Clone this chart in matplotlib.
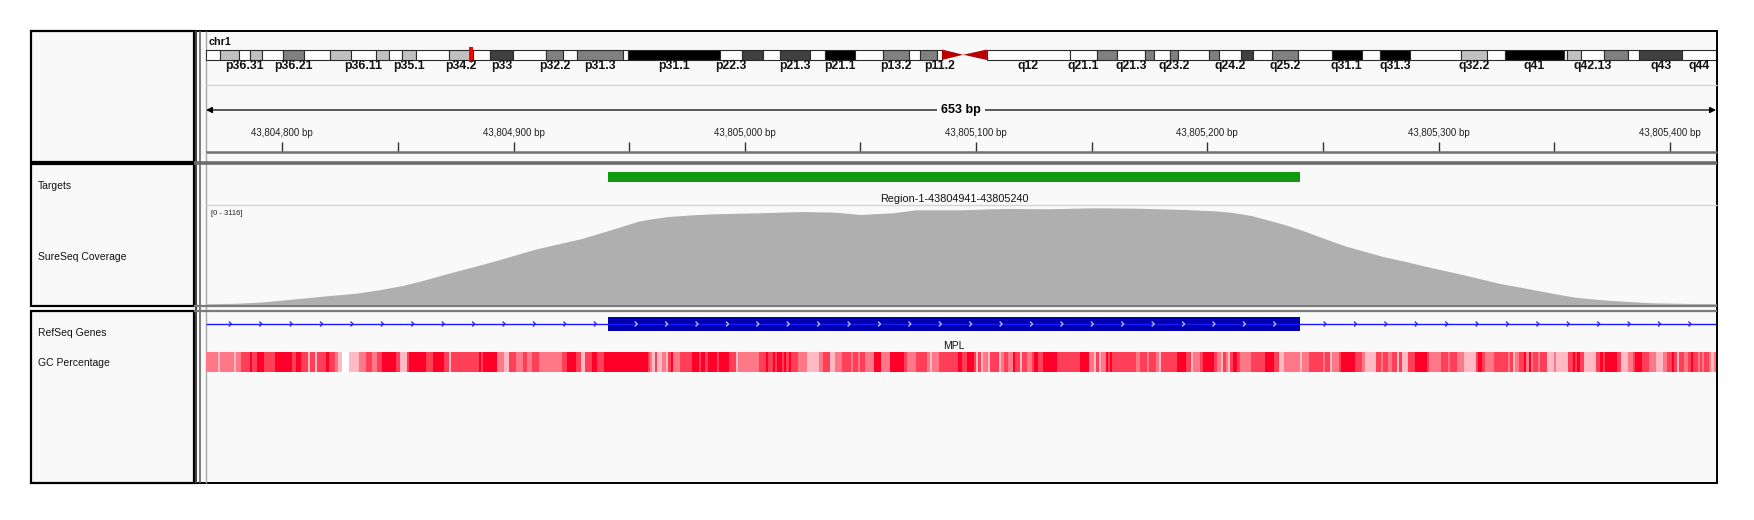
import numpy as np
import matplotlib
matplotlib.use("Agg")
import matplotlib.pyplot as plt
from matplotlib.patches import Rectangle, Polygon
from matplotlib.colors import ListedColormap

plt.rcParams['font.family'] = ['Liberation Sans', 'DejaVu Sans']

# ---- data ----
chrom = "chr1"
chrom_len = 249250621
view_start, view_end = 43804767, 43805420

# hg19 chr1 cytobands
band_names = ["p36.33", "p36.32", "p36.31", "p36.23", "p36.22", "p36.21", "p36.13", "p36.12", "p36.11",
              "p35.3", "p35.2", "p35.1", "p34.3", "p34.2", "p34.1", "p33", "p32.3", "p32.2", "p32.1",
              "p31.3", "p31.2", "p31.1", "p22.3", "p22.2", "p22.1", "p21.3", "p21.2", "p21.1", "p13.3",
              "p13.2", "p13.1", "p12", "p11.2", "p11.1", "q11", "q12", "q21.1", "q21.2", "q21.3", "q22",
              "q23.1", "q23.2", "q23.3", "q24.1", "q24.2", "q24.3", "q25.1", "q25.2", "q25.3", "q31.1",
              "q31.2", "q31.3", "q32.1", "q32.2", "q32.3", "q41", "q42.11", "q42.12", "q42.13", "q42.2",
              "q42.3", "q43", "q44"]
band_starts = [0, 2300000, 5400000, 7200000, 9200000, 12700000, 16200000, 20400000, 23900000,
               28000000, 30200000, 32400000, 34600000, 40100000, 44100000, 46800000, 50700000, 56100000,
               59000000, 61300000, 68900000, 69700000, 84900000, 88400000, 92000000, 94700000, 99700000,
               102200000, 107200000, 111800000, 116100000, 117800000, 120600000, 121500000, 125000000,
               128900000, 142600000, 147000000, 150300000, 155000000, 156500000, 159100000, 160500000,
               165500000, 167200000, 170900000, 172900000, 176000000, 180300000, 185800000, 190800000,
               193800000, 198700000, 207200000, 211500000, 214500000, 224100000, 224600000, 227000000,
               230700000, 234700000, 236600000, 243700000]
band_stains = ["gneg", "gpos25", "gneg", "gpos25", "gneg", "gpos50", "gneg", "gpos25", "gneg",
               "gpos25", "gneg", "gpos25", "gneg", "gpos25", "gneg", "gpos75", "gneg", "gpos50", "gneg",
               "gpos50", "gneg", "gpos100", "gneg", "gpos75", "gneg", "gpos75", "gneg", "gpos100", "gneg",
               "gpos50", "gneg", "gpos50", "gneg", "acen", "acen", "gvar", "gneg", "gpos50", "gneg", "gpos50",
               "gneg", "gpos50", "gneg", "gpos50", "gneg", "gpos75", "gneg", "gpos50", "gneg", "gpos100",
               "gneg", "gpos100", "gneg", "gpos25", "gneg", "gpos100", "gneg", "gpos25", "gneg", "gpos50",
               "gneg", "gpos75", "gneg"]
shown_labels = ["p36.31", "p36.21", "p36.11", "p35.1", "p34.2", "p33", "p32.2", "p31.3", "p31.1",
                "p22.3", "p21.3", "p21.1", "p13.2", "p11.2", "q12", "q21.1", "q21.3", "q23.2", "q24.2",
                "q25.2", "q31.1", "q31.3", "q32.2", "q41", "q42.13", "q43", "q44"]

target_name = "Region-1-43804941-43805240"
target_start, target_end = 43804941, 43805240
gene_name = "MPL"
gene_start, gene_end = 43804941, 43805240

cov_max = 3116
cov_pos = [43804767, 43804780, 43804790, 43804800, 43804813, 43804822, 43804832, 43804842, 43804852,
           43804862, 43804871, 43804880, 43804890, 43804900, 43804910, 43804920, 43804929,
           43804941, 43804948, 43804954, 43804960, 43804967, 43804977, 43804987, 43805006, 43805025,
           43805039, 43805050, 43805064, 43805074, 43805093, 43805112, 43805132, 43805151, 43805170,
           43805190, 43805203, 43805210, 43805219, 43805227, 43805234, 43805240, 43805251, 43805260,
           43805268, 43805276, 43805285, 43805293, 43805301, 43805309, 43805318, 43805326, 43805335,
           43805343, 43805351, 43805359, 43805367, 43805375, 43805392, 43805409, 43805420]
cov_val = [22, 40, 73, 140, 232, 295, 359, 470, 604, 790, 976, 1150, 1345, 1560, 1771, 1940, 2089,
           2353, 2512, 2649, 2730, 2798, 2850, 2884, 2916, 2957,
           2935, 2862, 2916, 3011, 3011, 3052, 3043, 3075, 3062,
           3021, 2979, 2935, 2830, 2671, 2530, 2385, 2089, 1854,
           1690, 1526, 1380, 1240, 1105, 976, 820, 677, 555,
           445, 335, 232, 175, 127, 54, 32, 32]

# GC percentage segments: start offset (bp from view_start) and shade level (4 = darkest)
gc_start = [0, 5, 6, 12, 13, 15, 19, 20, 22, 25, 30, 37, 39, 41, 44, 45, 47, 48, 52, 53, 56, 57, 59, 62,
            66, 69, 72, 74, 76, 82, 84, 87, 88, 95, 98, 103, 105, 106, 118, 119, 120, 126, 129, 131, 134,
            137, 139, 141, 144, 154, 156, 160, 162, 164, 167, 169, 172, 191, 192, 193, 194, 195, 197, 199,
            200, 201, 202, 205, 210, 213, 214, 216, 217, 221, 222, 226, 229, 230, 239, 242, 243, 245, 246,
            247, 249, 250, 251, 252, 253, 256, 260, 265, 267, 270, 272, 275, 279, 280, 282, 283, 285, 289,
            292, 296, 302, 303, 307, 312, 313, 314, 317, 325, 327, 329, 332, 333, 334, 335, 336, 338, 339,
            343, 344, 345, 347, 349, 350, 352, 353, 355, 357, 358, 360, 362, 368, 378, 382, 384, 385, 386,
            387, 389, 390, 391, 392, 402, 404, 407, 408, 411, 412, 413, 420, 424, 426, 427, 430, 431, 436,
            437, 439, 440, 441, 442, 443, 444, 446, 447, 452, 458, 462, 464, 466, 473, 474, 477, 483, 484,
            486, 487, 490, 491, 497, 500, 501, 506, 508, 509, 511, 513, 515, 516, 517, 520, 523, 528, 529,
            534, 537, 538, 541, 544, 549, 550, 552, 553, 557, 563, 564, 565, 566, 568, 570, 571, 572, 573,
            574, 576, 577, 580, 583, 584, 589, 591, 592, 593, 594, 596, 601, 603, 604, 605, 610, 612, 615,
            617, 618, 621, 624, 627, 630, 632, 634, 635, 636, 637, 639, 641, 642, 643, 645, 646, 647, 648,
            650, 651, 652]
gc_level = [2, 1, 2, 1, 2, 3, 4, 3, 4, 3, 4, 3, 4, 3, 1, 3, 1, 3, 4, 3, 2, 1, 0, 1,
            2, 3, 2, 3, 4, 3, 1, 3, 4, 3, 4, 3, 1, 3, 4, 3, 4, 2, 1, 3, 2,
            3, 2, 3, 2, 3, 4, 3, 1, 3, 4, 3, 4, 3, 2, 1, 3, 1, 2, 1,
            3, 4, 2, 3, 4, 3, 4, 3, 4, 3, 4, 3, 1, 2, 3, 4, 3, 4, 3,
            4, 3, 4, 3, 4, 3, 2, 1, 2, 3, 1, 2, 3, 2, 3, 2, 3, 2, 4,
            2, 4, 3, 2, 3, 2, 1, 2, 3, 4, 3, 4, 3, 1, 3, 1, 2, 1, 3,
            1, 2, 3, 2, 4, 3, 1, 3, 2, 3, 4, 3, 4, 3, 4, 2, 1, 3, 1,
            2, 4, 3, 4, 3, 2, 3, 2, 3, 2, 1, 3, 4, 3, 1, 2, 3, 4, 3,
            2, 1, 3, 2, 1, 3, 4, 3, 2, 3, 4, 3, 1, 2, 1, 2, 3, 2, 3,
            1, 2, 3, 4, 3, 2, 1, 3, 2, 3, 2, 3, 1, 3, 1, 3, 4, 3, 2,
            3, 2, 3, 2, 1, 3, 4, 3, 2, 3, 2, 3, 1, 2, 3, 4, 2, 4, 2,
            3, 2, 3, 1, 2, 1, 3, 4, 3, 4, 3, 1, 3, 4, 3, 4, 3, 1, 2,
            3, 4, 3, 2, 1, 2, 3, 4, 3, 1, 3, 2, 3, 4, 3, 2, 3, 2, 3,
            2, 1, 2]

# ---- styles ----
stain_colors = {"gneg": "#ffffff", "gvar": "#ffffff", "gpos25": "#c0c0c0", "gpos50": "#808080",
                "gpos75": "#404040", "gpos100": "#000000", "acen": "#b80000"}
gc_colors = ["#ffffff", "#ffbac4", "#ff7888", "#ff3e58", "#ff0028"]
panel_bg = "#f9f9f9"

W, H = 1754, 520
fig = plt.figure(figsize=(W / 100, H / 100), dpi=100)
fig.patch.set_facecolor("white")


def px_axes(x0, y0, x1, y1):
    ax = fig.add_axes([x0 / W, 1 - y1 / H, (x1 - x0) / W, (y1 - y0) / H])
    ax.set_axis_off()
    return ax


# background frame, in pixel units
bg = px_axes(0, 0, W, H)
bg.set_xlim(0, W)
bg.set_ylim(H, 0)
bg.add_patch(Rectangle((196, 31), 1521, 452, facecolor=panel_bg, edgecolor="black", lw=1.4))
for y0, y1 in [(31, 162), (164, 306), (311, 483)]:
    bg.add_patch(Rectangle((31, y0), 163, y1 - y0, facecolor=panel_bg, edgecolor="black", lw=1.6))
bg.vlines([196, 200], 31, 483, color="#5a5a5a", lw=1.1)
bg.vlines(206, 31, 483, color="#a8a8a8", lw=1.0)
bg.hlines(85, 206, 1717, color="#d4d4d4", lw=1.0)
bg.hlines(152, 206, 1717, color="#707070", lw=1.8)
bg.hlines(162.8, 194, 1717, color="#6c6c6c", lw=2.6)
bg.hlines(205, 206, 1717, color="#d4d4d4", lw=1.0)
bg.hlines([306, 310.5], 194, 1717, color="#7a7a7a", lw=1.6)
name_font = dict(fontsize=7.5, color="#111111", va="center", ha="left")
bg.text(38, 186, "Targets", **name_font)
bg.text(38, 257, "SureSeq Coverage", **name_font)
bg.text(38, 333, "RefSeq Genes", **name_font)
bg.text(38, 363, "GC Percentage", **name_font)

# ideogram
ideo = px_axes(206, 40, 1716, 72)
ideo.set_xlim(0, chrom_len)
ideo.set_ylim(72, 40)
band_ends = band_starts[1:] + [chrom_len]
for name, s, e, st in zip(band_names, band_starts, band_ends, band_stains):
    if st == "acen":
        mid = 54.75
        if name.startswith("p"):
            pts = [(s, 49.5), (s, 60), (e, mid)]
        else:
            pts = [(s, mid), (e, 49.5), (e, 60)]
        ideo.add_patch(Polygon(pts, closed=True, facecolor=stain_colors[st], edgecolor="none"))
    else:
        ideo.add_patch(Rectangle((s, 49.5), e - s, 10.5, facecolor=stain_colors[st],
                                 edgecolor="#2a2a2a", lw=0.8))
    if name in shown_labels:
        ideo.text((s + e) / 2, 66, name, ha="center", va="center", fontsize=8.8, fontweight="bold",
                  color="#111111")
view_mid = (view_start + view_end) / 2
mark_w = 4 / 1510 * chrom_len
ideo.add_patch(Rectangle((view_mid - mark_w / 2, 47), mark_w, 15, facecolor="#ff0000", edgecolor="none"))
ideo.text(0.002 * chrom_len, 42, chrom, ha="left", va="center",
          fontsize=7.8, fontweight="bold", color="#111111")

# ruler
rul = px_axes(206, 86, 1716, 152)
rul.set_xlim(view_start, view_end)
rul.set_ylim(152, 86)
rul.annotate("", xy=(view_start, 110), xytext=(view_end, 110),
             arrowprops=dict(arrowstyle="<|-|>", color="black", lw=0.9, mutation_scale=9,
                             shrinkA=0, shrinkB=0))
rul.text((view_start + view_end) / 2, 110, f"{view_end - view_start} bp", ha="center", va="center",
         fontsize=9, fontweight="bold", bbox=dict(facecolor=panel_bg, edgecolor="none", pad=3))
ticks = np.arange(43804800, view_end, 50)
rul.vlines(ticks, 142, 151, color="#333333", lw=1.0)
for t in ticks[::2]:
    rul.text(t, 133, f"{t:,} bp", ha="center", va="center", fontsize=7, color="#222222")

# targets
trk = px_axes(206, 164, 1716, 306)
trk.set_xlim(view_start, view_end)
trk.set_ylim(306, 164)
trk.broken_barh([(target_start, target_end - target_start)], (171.5, 10.5), facecolors="#109a10")
trk.text((target_start + target_end) / 2, 199, target_name, ha="center", va="center",
         fontsize=7.8, color="#111111")

# coverage
cov = px_axes(206, 206.5, 1716, 304.5)
cov.set_xlim(view_start, view_end)
cov.set_ylim(0, cov_max)
cov.fill_between(cov_pos, cov_val, 0, color="#afafaf", lw=0)
cov.text(view_start + 2, cov_max * 0.93, f"[0 - {cov_max}]", ha="left", va="center",
         fontsize=5.5, color="#222222")

# refseq genes
gen = px_axes(206, 311, 1716, 483)
gen.set_xlim(view_start, view_end)
gen.set_ylim(483, 311)
gen.hlines(324, view_start, view_end, color="#1a1aff", lw=1.0)
outside = np.arange(view_start + 11, view_end, 13.15)
outside = outside[(outside < gene_start) | (outside > gene_end + 2)]
for c in outside:
    gen.plot([c - 0.9, c, c - 0.9], [322, 324, 326], color="#1a1aff", lw=0.9)
gen.broken_barh([(gene_start, gene_end - gene_start)], (317, 14), facecolors="#0000b0")
for c in np.arange(gene_start + 12.5, gene_end - 3, 13.15):
    gen.plot([c - 0.9, c, c - 0.9], [322, 324, 326], color="#c8c8ff", lw=0.9)
gen.text((gene_start + gene_end) / 2, 346, gene_name, ha="center", va="center", fontsize=7.5,
         color="#111111")

# GC percentage, one cell per segment
gc = px_axes(206, 352, 1716, 372)
gc.set_xlim(view_start, view_end)
gc.set_ylim(0, 1)
gc_edges = np.array(gc_start + [view_end - view_start]) + view_start
gc.pcolormesh(gc_edges, [0, 1], np.array([gc_level]), cmap=ListedColormap(gc_colors),
              vmin=-0.5, vmax=4.5, shading="flat", antialiased=False, edgecolors="none")

fig.savefig("out.png", dpi=100, facecolor="white")
